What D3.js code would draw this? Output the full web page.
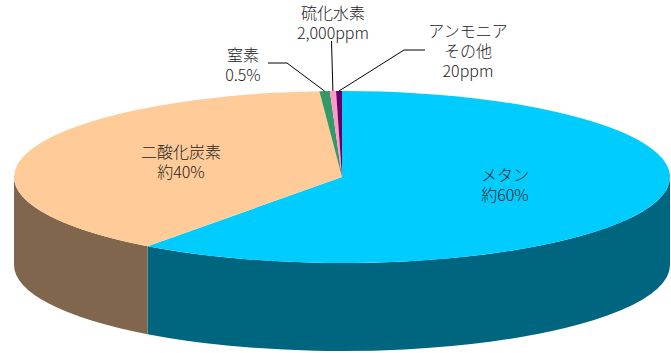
<!DOCTYPE html>
<html lang="ja">
<head>
<meta charset="utf-8">
<script src="https://cdn.jsdelivr.net/npm/d3@7/dist/d3.min.js"></script>
<style>
  html, body { margin: 0; padding: 0; background: #fff; }
  svg { display: block; }
  text { font-family: "Noto Sans CJK JP", "Noto Sans", sans-serif; font-size: 16px; font-weight: 300; fill: #222; }
</style>
</head>
<body>
<svg id="chart" width="671" height="353"></svg>
<script>
// Biogas composition (share of total, %)
const gases = ["メタン", "二酸化炭素", "窒素", "硫化水素", "アンモニア"];
const shares = [60.1, 38.8, 0.51, 0.3, 0.29];
const labelLines = [
  ["メタン", "約60%"],
  ["二酸化炭素", "約40%"],
  ["窒素", "0.5%"],
  ["硫化水素", "2,000ppm"],
  ["アンモニア", "その他", "20ppm"]
];
const topColors = ["#00CCFF", "#FFCC99", "#339966", "#FF99CC", "#660066"];

// Ellipse geometry of the tilted pie
const cx = 342, cy = 177, rx = 328, ry = 86, depth = 88;

const svg = d3.select("#chart");
const shade = c => { const k = d3.rgb(c); return d3.rgb(k.r * 0.5, k.g * 0.5, k.b * 0.5).formatHex(); };

const rows = gases.map((g, i) => ({ name: g, value: shares[i], color: topColors[i], lines: labelLines[i] }));
const arcs = d3.pie().sort(null).value(d => d.value)(rows);

// angle in d3.pie convention (0 = top, clockwise) -> point on ellipse
const pt = (a, dy = 0) => [cx + rx * Math.sin(a), cy - ry * Math.cos(a) + dy];
const f = p => p[0].toFixed(2) + "," + p[1].toFixed(2);

// Side walls: only the front half (angles between pi/2 and 3pi/2) is visible
const sides = svg.append("g");
arcs.forEach(d => {
  const s = Math.max(d.startAngle, Math.PI / 2);
  const e = Math.min(d.endAngle, 3 * Math.PI / 2);
  if (e <= s) return;
  const path = `M${f(pt(s))} A${rx},${ry} 0 0 1 ${f(pt(e))} L${f(pt(e, depth))} A${rx},${ry} 0 0 0 ${f(pt(s, depth))} Z`;
  sides.append("path").attr("d", path).attr("fill", shade(d.data.color));
});

// Top faces
const tops = svg.append("g");
arcs.forEach(d => {
  const large = (d.endAngle - d.startAngle) > Math.PI ? 1 : 0;
  const path = `M${cx},${cy} L${f(pt(d.startAngle))} A${rx},${ry} 0 ${large} 1 ${f(pt(d.endAngle))} Z`;
  tops.append("path").attr("d", path).attr("fill", d.data.color);
});

// Inside labels for the two large slices
const inner = [
  { i: 0, x: 505, y: 175 },
  { i: 1, x: 181, y: 152 }
];
// Outside labels with leader lines (elbow point then to slice edge)
const outer = [
  { i: 2, x: 243, y: 55, elbow: [[268, 63], [287, 63]] },
  { i: 3, x: 333, y: 13, elbow: [[331.5, 41]] },
  { i: 4, x: 468, y: 31, elbow: [[425, 50], [404, 50]] }
];

const drawLabel = (lines, x, y) => {
  lines.forEach((ln, k) => {
    svg.append("text").attr("text-anchor", "middle")
      .attr("x", x).attr("y", y + k * 20).attr("dy", "0.35em").text(ln);
  });
};

inner.forEach(o => drawLabel(arcs[o.i].data.lines, o.x, o.y));

const line = d3.line();
outer.forEach(o => {
  const d = arcs[o.i];
  const mid = (d.startAngle + d.endAngle) / 2;
  const end = pt(mid);
  svg.append("path")
    .attr("d", line([...o.elbow, end]))
    .attr("fill", "none").attr("stroke", "#000").attr("stroke-width", 1);
  drawLabel(d.data.lines, o.x, o.y);
});
</script>
</body>
</html>
